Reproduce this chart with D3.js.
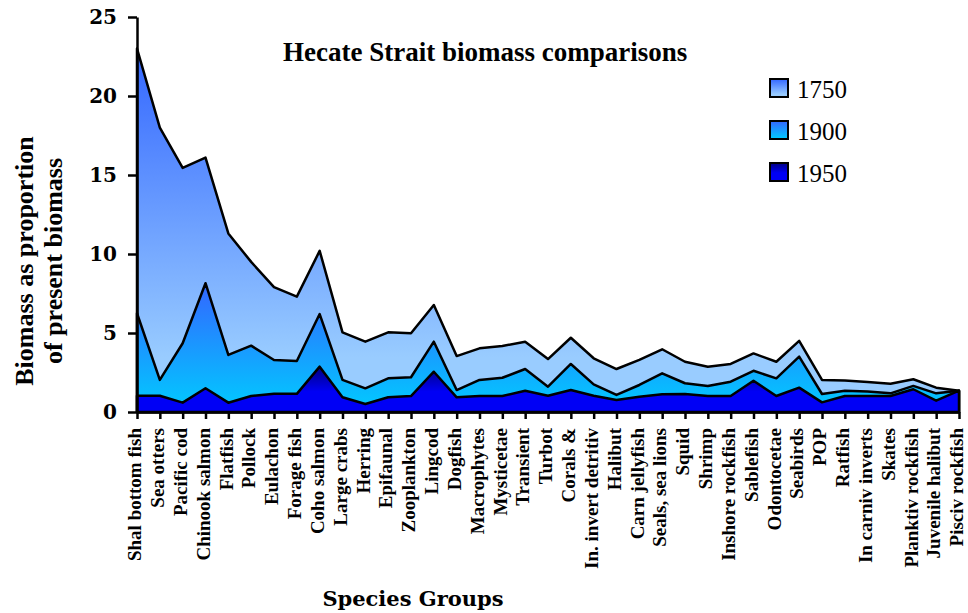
<!DOCTYPE html>
<meta charset="utf-8">
<script src="https://d3js.org/d3.v7.min.js"></script>
<style>
  body { margin: 0; background: #fff; }
</style>
<div id="viz"></div>
<script>

var species = ["Shal bottom fish", "Sea otters", "Pacific cod", "Chinook salmon", "Flatfish",
  "Pollock", "Eulachon", "Forage fish", "Coho salmon", "Large crabs", "Herring", "Epifaunal",
  "Zooplankton", "Lingcod", "Dogfish", "Macrophytes", "Mysticetae", "Transient", "Turbot",
  "Corals &", "In. invert detritiv", "Halibut", "Carn jellyfish", "Seals, sea lions", "Squid",
  "Shrimp", "Inshore rockfish", "Sablefish", "Odontocetae", "Seabirds", "POP", "Ratfish",
  "In carniv inverts", "Skates", "Planktiv rockfish", "Juvenile halibut", "Pisciv rockfish"];

var y1750 = [23.0, 18.0, 15.45, 16.1, 11.3, 9.5, 7.9, 7.3, 10.2, 5.04, 4.45, 5.04, 4.98, 6.77,
  3.54, 4.03, 4.18, 4.45, 3.35, 4.7, 3.4, 2.72, 3.3, 3.97, 3.18, 2.87, 3.04, 3.71, 3.18, 4.5,
  2.03, 2.0, 1.9, 1.79, 2.07, 1.54, 1.35];

var y1900 = [6.25, 2.03, 4.35, 8.15, 3.61, 4.2, 3.29, 3.23, 6.2, 2.03, 1.5, 2.13, 2.2, 4.45,
  1.39, 2.03, 2.17, 2.72, 1.6, 3.04, 1.75, 1.08, 1.71, 2.45, 1.82, 1.65, 1.92, 2.61, 2.13, 3.5,
  1.14, 1.35, 1.29, 1.18, 1.65, 1.18, 1.35];

var y1950 = [1.03, 1.03, 0.59, 1.5, 0.59, 1.01, 1.15, 1.15, 2.87, 0.93, 0.51, 0.93, 1.01, 2.55,
  0.93, 1.01, 1.01, 1.35, 1.03, 1.39, 1.03, 0.76, 0.97, 1.12, 1.14, 1.01, 1.01, 1.98, 1.01, 1.54,
  0.61, 1.01, 1.01, 1.01, 1.44, 0.72, 1.35];

var years = ["1750", "1900", "1950"];
var yTicks = [0, 5, 10, 15, 20, 25];

// gradient stops (top colour, bottom colour, where the bottom colour is reached)
var series = [
  {year: "1750", values: y1750, top: "#3366ff", bottom: "#99ccff", stop: "85%"},
  {year: "1900", values: y1900, top: "#3366ff", bottom: "#00ccff", stop: "100%"},
  {year: "1950", values: y1950, top: "#000080", bottom: "#0000f5", stop: "55%"}
];

var width = 968, height = 613;

var svg = d3.select("#viz")
  .append("svg")
    .attr("width", width)
    .attr("height", height);

var defs = svg.append("defs");
series.forEach(function(s) {
  var g = defs.append("linearGradient")
    .attr("id", "grad" + s.year)
    .attr("x1", 0).attr("y1", 0).attr("x2", 0).attr("y2", 1);
  g.append("stop").attr("offset", "0%").attr("stop-color", s.top);
  g.append("stop").attr("offset", s.stop).attr("stop-color", s.bottom);
});

var x = d3.scalePoint()
  .domain(species)
  .range([137, 959]);

var y = d3.scaleLinear()
  .domain([0, 25])
  .range([412, 17]);

var area = d3.area()
  .x(function(d, i) { return x(species[i]); })
  .y0(y(0))
  .y1(function(d) { return y(d); });

svg.selectAll(".area")
  .data(series)
  .enter()
  .append("path")
    .attr("class", "area")
    .attr("d", function(s) { return area(s.values); })
    .style("fill", function(s) { return "url(#grad" + s.year + ")"; })
    .style("stroke", "#000")
    .style("stroke-width", 2.5)
    .style("stroke-linejoin", "round");

// y axis
var yAxis = svg.append("g")
  .attr("transform", "translate(137,0)")
  .call(d3.axisLeft(y).tickValues(yTicks).tickSize(9).tickPadding(11).tickSizeOuter(0));
yAxis.select(".domain").attr("stroke-width", 2.5);
yAxis.selectAll(".tick line").attr("stroke-width", 2.5);
yAxis.selectAll("text")
  .style("font-family", "'DejaVu Serif'")
  .style("font-weight", "bold")
  .style("font-size", "20px")
  .attr("fill", "#000");

// x axis
var xAxis = svg.append("g")
  .attr("transform", "translate(0,412)")
  .call(d3.axisBottom(x).tickSize(7).tickSizeOuter(0));
xAxis.select(".domain").attr("stroke-width", 2.5);
xAxis.selectAll(".tick line").attr("stroke-width", 2.5);
xAxis.selectAll("text")
  .attr("transform", "rotate(-90)")
  .attr("x", -16)
  .attr("y", 0)
  .attr("dy", "0.2em")
  .style("text-anchor", "end")
  .style("font-family", "'Liberation Serif'")
  .style("font-weight", "bold")
  .style("font-size", "19px")
  .attr("fill", "#000");

// title
svg.append("text")
  .attr("x", 283)
  .attr("y", 61)
  .style("font-family", "'Liberation Serif'")
  .style("font-weight", "bold")
  .style("font-size", "27px")
  .text("Hecate Strait biomass comparisons");

// y axis title
var yTitle = svg.append("text")
  .attr("transform", "translate(0,261) rotate(-90)")
  .attr("text-anchor", "middle")
  .style("font-family", "'Liberation Serif'")
  .style("font-weight", "bold")
  .style("font-size", "26px");
yTitle.append("tspan").attr("x", 0).attr("y", 33).text("Biomass as proportion");
yTitle.append("tspan").attr("x", 0).attr("y", 62).text("of present biomass");

// x axis title
svg.append("text")
  .attr("x", 413)
  .attr("y", 606)
  .attr("text-anchor", "middle")
  .style("font-family", "'DejaVu Serif'")
  .style("font-weight", "bold")
  .style("font-size", "21px")
  .text("Species Groups");

// legend
var legend = svg.selectAll(".legend")
  .data(years)
  .enter()
  .append("g")
    .attr("class", "legend")
    .attr("transform", function(d, i) { return "translate(770," + (79 + i * 42) + ")"; });

legend.append("rect")
  .attr("width", 18)
  .attr("height", 18)
  .style("fill", function(d) { return "url(#grad" + d + ")"; })
  .style("stroke", "#000")
  .style("stroke-width", 2);

legend.append("text")
  .attr("x", 27)
  .attr("y", 19)
  .style("font-family", "'Liberation Serif'")
  .style("font-size", "25px")
  .text(function(d) { return d; });

</script>
